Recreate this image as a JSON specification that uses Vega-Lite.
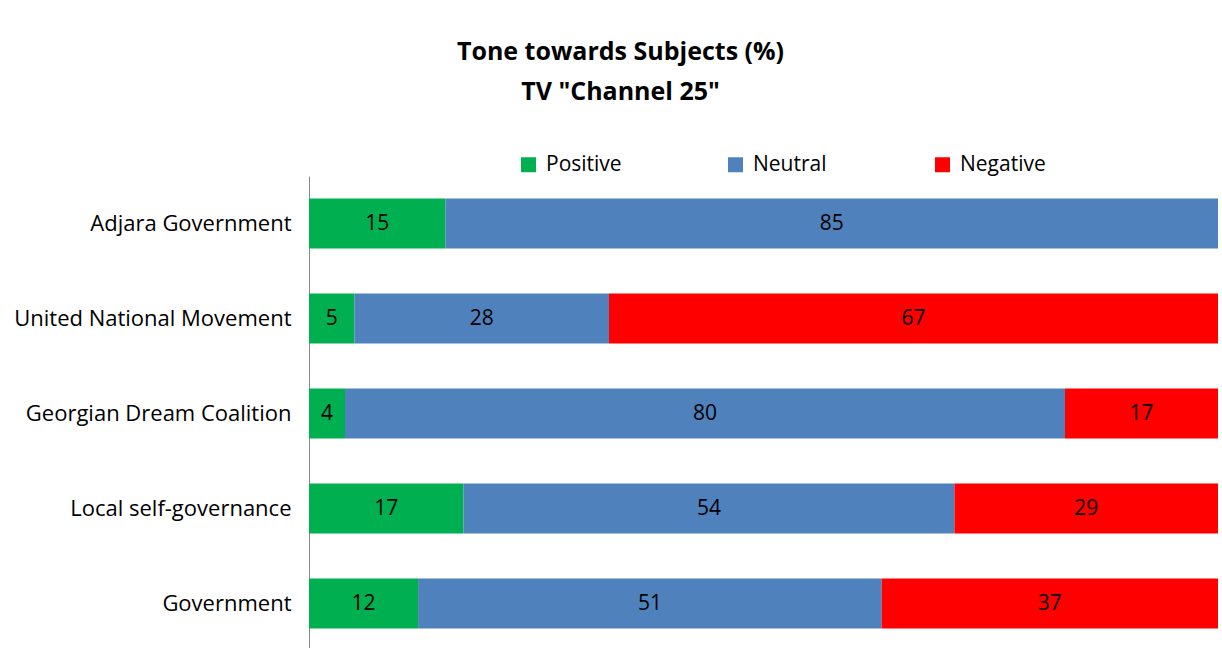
{
  "$schema": "https://vega.github.io/schema/vega-lite/v6.json",
  "width": 909,
  "height": 475,
  "autosize": {"type": "none"},
  "padding": {"left": 309, "top": 176, "right": 4, "bottom": 0},
  "background": "white",
  "title": {
    "text": ["Tone towards Subjects (%)", "TV \"Channel 25\""],
    "anchor": "middle",
    "dx": -143,
    "offset": 49,
    "fontSize": 25,
    "lineHeight": 40,
    "font": "Open Sans",
    "fontWeight": "bold",
    "color": "#000000"
  },
  "data": {
    "values": [
      {"subject": "Adjara Government", "tone": "Positive", "value": 15},
      {"subject": "Adjara Government", "tone": "Neutral", "value": 85},
      {"subject": "United National Movement", "tone": "Positive", "value": 5},
      {"subject": "United National Movement", "tone": "Neutral", "value": 28},
      {"subject": "United National Movement", "tone": "Negative", "value": 67},
      {"subject": "Georgian Dream Coalition", "tone": "Positive", "value": 4},
      {"subject": "Georgian Dream Coalition", "tone": "Neutral", "value": 80},
      {"subject": "Georgian Dream Coalition", "tone": "Negative", "value": 17},
      {"subject": "Local self-governance", "tone": "Positive", "value": 17},
      {"subject": "Local self-governance", "tone": "Neutral", "value": 54},
      {"subject": "Local self-governance", "tone": "Negative", "value": 29},
      {"subject": "Government", "tone": "Positive", "value": 12},
      {"subject": "Government", "tone": "Neutral", "value": 51},
      {"subject": "Government", "tone": "Negative", "value": 37}
    ]
  },
  "transform": [
    {"stack": "value", "groupby": ["subject"], "sort": [{"field": "tone", "order": "descending"}], "offset": "normalize", "as": ["v0", "v1"]},
    {"calculate": "(datum.v0 + datum.v1) / 2", "as": "vmid"}
  ],
  "encoding": {
    "y": {
      "field": "subject",
      "type": "nominal",
      "sort": ["Adjara Government", "United National Movement", "Georgian Dream Coalition", "Local self-governance", "Government"],
      "scale": {"paddingInner": 0.474, "paddingOuter": 0.237},
      "axis": {
        "title": null,
        "ticks": false,
        "domainColor": "#898989",
        "labelFont": "Open Sans",
        "labelFontSize": 22,
        "labelColor": "#000000",
        "labelPadding": 18,
        "labelLimit": 400
      }
    }
  },
  "layer": [
    {
      "mark": {"type": "bar"},
      "encoding": {
        "x": {"field": "v0", "type": "quantitative", "scale": {"domain": [0, 1], "nice": false}, "axis": null},
        "x2": {"field": "v1"},
        "color": {
          "field": "tone",
          "type": "nominal",
          "scale": {"domain": ["Positive", "Neutral", "Negative"], "range": ["#00B050", "#4F81BD", "#FF0000"]},
          "legend": {
            "title": null,
            "orient": "none",
            "direction": "horizontal",
            "legendX": 209,
            "legendY": -22,
            "symbolType": "square",
            "symbolSize": 225,
            "symbolStrokeWidth": 0,
            "symbolOpacity": 1,
            "labelFont": "Open Sans",
            "labelFontSize": 21,
            "labelColor": "#000000",
            "labelOffset": 7,
            "gridAlign": "all",
            "columnPadding": 93
          }
        }
      }
    },
    {
      "mark": {"type": "text", "font": "Open Sans", "fontSize": 21, "color": "#000000", "align": "center", "baseline": "middle"},
      "encoding": {
        "x": {"field": "vmid", "type": "quantitative"},
        "text": {"field": "value", "type": "quantitative"}
      }
    }
  ],
  "config": {"view": {"stroke": null}}
}
